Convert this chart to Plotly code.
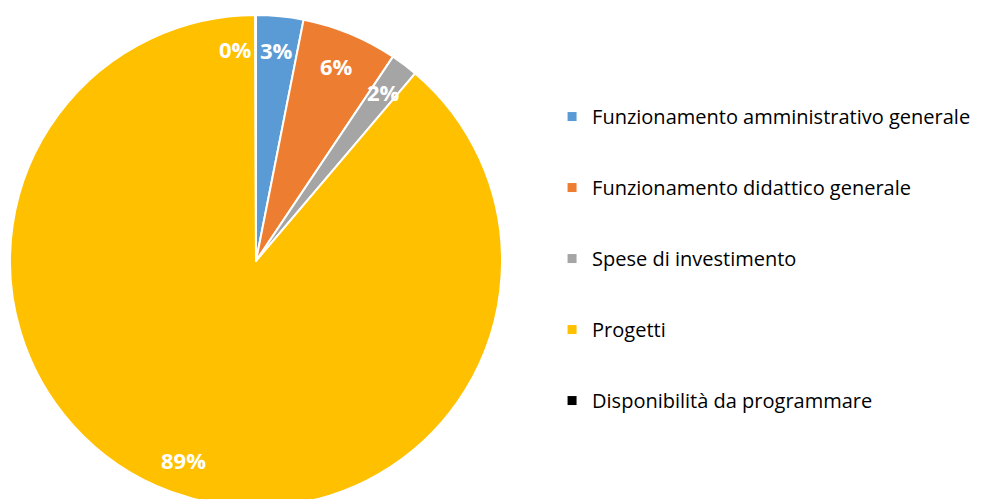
import math
import plotly.graph_objects as go

categories = [
    "Funzionamento amministrativo generale",
    "Funzionamento didattico generale",
    "Spese di investimento",
    "Progetti",
    "Disponibilità da programmare",
]
values = [3.1, 6.3, 1.8, 88.75, 0.05]
colors = ["#5B9BD5", "#ED7D31", "#A5A5A5", "#FFC000", "#000000"]

W, H = 991, 499
MT = 7
dom_x = [2 / W, 494 / W]
dom_y = [0, 1]

fig = go.Figure()
fig.add_trace(go.Pie(
    labels=categories,
    values=values,
    sort=False,
    direction="clockwise",
    rotation=0,
    marker=dict(colors=colors, line=dict(color="white", width=2)),
    textinfo="none",
    domain=dict(x=dom_x, y=dom_y),
    showlegend=False,
    hoverinfo="label+percent",
))

for name, col in zip(categories, colors):
    fig.add_trace(go.Scatter(
        x=[None], y=[None], mode="markers", name=name, legendgroup=name,
        marker=dict(symbol="square", size=9, color=col),
    ))

# data labels placed along each slice's mid-angle (like Excel's best-fit labels)
plot_h = H - MT
cx = (dom_x[0] + dom_x[1]) / 2 * W
cy_px = MT + plot_h / 2
R = min((dom_x[1] - dom_x[0]) * W, plot_h) / 2
total = sum(values)
cum = 0.0
annotations = []
for v in values:
    frac = v / total
    mid = (cum + frac / 2) * 2 * math.pi
    cum += frac
    r = 0.86 * R
    px = cx + r * math.sin(mid)
    py = cy_px - r * math.cos(mid)
    tiny = frac < 0.005
    annotations.append(dict(
        x=px / W, y=(H - py) / plot_h, xref="paper", yref="paper",
        text=f"{round(frac * 100):d}%", showarrow=False,
        xanchor="right" if tiny else "center", yanchor="middle",
        xshift=-2 if tiny else 0,
        font=dict(family="Open Sans", size=22, color="white", weight="bold"),
    ))

fig.update_layout(
    width=W, height=H,
    margin=dict(l=0, r=0, t=MT, b=0),
    paper_bgcolor="white", plot_bgcolor="white",
    xaxis=dict(visible=False), yaxis=dict(visible=False),
    annotations=annotations,
    legend=dict(
        x=0.549, xanchor="left", y=0.505, yanchor="middle",
        font=dict(family="Open Sans", size=20, color="#000000"),
        tracegroupgap=42, itemwidth=30,
        bgcolor="rgba(0,0,0,0)",
    ),
)
fig.write_html("out.html")
